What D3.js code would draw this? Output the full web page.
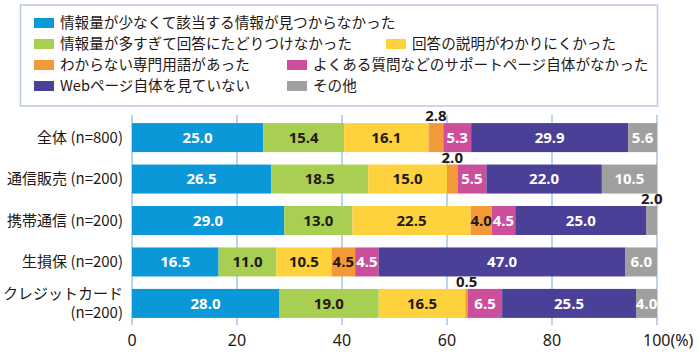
<!DOCTYPE html>
<html><head><meta charset="utf-8">
<script src="https://cdn.jsdelivr.net/npm/d3@7"></script>
<style>
body{margin:0;background:#fff;}
svg{display:block;font-family:"Noto Sans CJK JP","Noto Sans",sans-serif;}
</style></head><body>
<svg id="c" width="700" height="352"></svg>
<script>
const categories = ["全体 (n=800)", "通信販売 (n=200)", "携帯通信 (n=200)", "生損保 (n=200)", "クレジットカード|(n=200)"];
const seriesNames = ["情報量が少なくて該当する情報が見つからなかった", "情報量が多すぎて回答にたどりつけなかった", "回答の説明がわかりにくかった", "わからない専門用語があった", "よくある質問などのサポートページ自体がなかった", "Webページ自体を見ていない", "その他"];
const s1 = [25.0, 26.5, 29.0, 16.5, 28.0];
const s2 = [15.4, 18.5, 13.0, 11.0, 19.0];
const s3 = [16.1, 15.0, 22.5, 10.5, 16.5];
const s4 = [2.8, 2.0, 4.0, 4.5, 0.5];
const s5 = [5.3, 5.5, 4.5, 4.5, 6.5];
const s6 = [29.9, 22.0, 25.0, 47.0, 25.5];
const s7 = [5.6, 10.5, 2.0, 6.0, 4.0];
const tickValues = [0, 20, 40, 60, 80, 100];
const tickLabels = ["0", "20", "40", "60", "80", "100(%)"];

const colors = ["#0a98d8", "#a8cf52", "#fdd23c", "#f39a38", "#cc4f9c", "#4a4097", "#a0a0a0"];
const textColors = ["#fff", "#231815", "#231815", "#231815", "#fff", "#fff", "#fff"];
const series = [s1, s2, s3, s4, s5, s6, s7];
// labels drawn above the bar for narrow segments
const above = {"0-3":1, "1-3":1, "2-6":1, "4-3":1};

const svg = d3.select("#c");
const x = d3.scaleLinear().domain([0, 100]).range([132, 657]);
const y = d3.scaleBand().domain(d3.range(categories.length)).range([115, 326]).paddingInner(0.31).paddingOuter(0.2);

// legend box
svg.append("rect").attr("x", 20.5).attr("y", 5).attr("width", 637).attr("height", 101)
  .attr("fill", "#fff").attr("stroke", "#b9c9e2").attr("stroke-width", 1.5);
const legendPos = [
  [34, 23], [34, 44], [386, 44], [34, 65], [287, 65], [34, 86], [287, 86]
];
const lg = svg.append("g");
seriesNames.forEach((n, i) => {
  const [lx, ly] = legendPos[i];
  lg.append("rect").attr("x", lx).attr("y", ly - 5).attr("width", 20).attr("height", 10).attr("fill", colors[i]);
  lg.append("text").attr("x", lx + 26).attr("y", ly).attr("dy", "0.36em")
    .attr("font-size", 14.6).attr("fill", "#231815").text(n);
});

// gridlines
svg.append("g").selectAll("line").data(tickValues).join("line")
  .attr("x1", d => x(d)).attr("x2", d => x(d)).attr("y1", 115).attr("y2", 325)
  .attr("stroke", "#8fb6e6").attr("stroke-width", 1.2);

// stacked bars
const stackData = categories.map((c, i) => {
  let acc = 0;
  return series.map((s, k) => { const seg = {k, i, x0: acc, x1: acc + s[i], v: s[i]}; acc += s[i]; return seg; });
});
const bh = 29;
const rows = svg.append("g").selectAll("g").data(stackData).join("g");
rows.each(function(segs, i) {
  const g = d3.select(this);
  const cy = y(i) + y.bandwidth() / 2;
  g.selectAll("rect").data(segs).join("rect")
    .attr("x", d => x(d.x0)).attr("width", d => Math.max(0, x(Math.min(d.x1, 100)) - x(d.x0)))
    .attr("y", cy - bh / 2).attr("height", bh)
    .attr("fill", d => colors[d.k]);
  g.selectAll("text").data(segs).join("text")
    .attr("x", d => (x(d.x0) + x(Math.min(d.x1, 100))) / 2)
    .attr("y", d => above[d.i + "-" + d.k] ? cy - bh / 2 - 2 : cy)
    .attr("dy", d => above[d.i + "-" + d.k] ? "0" : "0.36em")
    .attr("text-anchor", "middle")
    .attr("font-family", "'Open Sans','Noto Sans',sans-serif")
    .attr("font-weight", "bold").attr("font-size", 15)
    .attr("fill", d => above[d.i + "-" + d.k] ? "#231815" : textColors[d.k])
    .text(d => d.v.toFixed(1));
});

// category labels
const cl = svg.append("g");
categories.forEach((c, i) => {
  const cy = y(i) + y.bandwidth() / 2;
  const parts = c.split("|");
  parts.forEach((p, j) => {
    cl.append("text").attr("x", 123).attr("y", cy + (j - (parts.length - 1) / 2) * 19)
      .attr("dy", "0.36em").attr("text-anchor", "end")
      .attr("font-size", 15).attr("fill", "#231815").text(p);
  });
});

// tick labels
svg.append("g").selectAll("text").data(tickValues).join("text")
  .attr("x", d => x(d)).attr("y", 340).attr("dy", "0.36em")
  .attr("text-anchor", (d, i) => i === tickValues.length - 1 ? "start" : "middle")
  .attr("dx", (d, i) => i === tickValues.length - 1 ? -14 : 0)
  .attr("font-family", "'Noto Sans',sans-serif")
  .attr("font-size", 16).attr("fill", "#231815")
  .text((d, i) => tickLabels[i]);
</script>
</body></html>
